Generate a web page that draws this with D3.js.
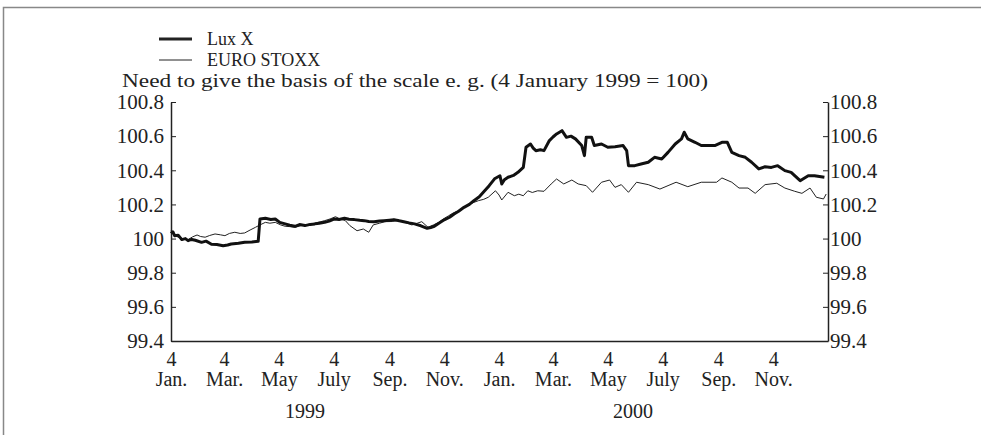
<!DOCTYPE html>
<html>
<head>
<meta charset="utf-8">
<script src="https://cdn.jsdelivr.net/npm/d3@7"></script>
<style>
  body { margin: 0; background: #fff; }
  text { font-family: "Liberation Serif", "Times New Roman", serif; fill: #222; }
</style>
</head>
<body>
<div id="chart"></div>
<script>
// Index levels, 4 January 1999 = 100
let luxX = [
  ["1999-01-04",100.03],["1999-01-06",100.04],["1999-01-08",100.017],["1999-01-12",100.02],
  ["1999-01-16",99.994],["1999-01-20",100.0],["1999-01-23",99.988],["1999-01-27",99.995],
  ["1999-01-31",99.99],["1999-02-07",99.978],["1999-02-12",99.985],["1999-02-18",99.967],
  ["1999-02-24",99.965],["1999-03-03",99.958],["1999-03-08",99.962],["1999-03-12",99.968],
  ["1999-03-20",99.972],["1999-03-27",99.978],["1999-04-04",99.98],["1999-04-11",99.984],
  ["1999-04-13",100.115],["1999-04-19",100.119],["1999-04-25",100.112],["1999-04-30",100.115],
  ["1999-05-05",100.095],["1999-05-11",100.086],["1999-05-16",100.078],["1999-05-22",100.072],
  ["1999-05-27",100.082],["1999-06-02",100.076],["1999-06-08",100.083],["1999-06-13",100.086],
  ["1999-06-18",100.09],["1999-06-24",100.095],["1999-06-29",100.102],["1999-07-05",100.115],
  ["1999-07-10",100.112],["1999-07-16",100.119],["1999-07-21",100.113],["1999-07-27",100.111],
  ["1999-08-02",100.107],["1999-08-07",100.105],["1999-08-12",100.1],["1999-08-18",100.099],
  ["1999-08-24",100.103],["1999-08-29",100.105],["1999-09-04",100.108],["1999-09-09",100.111],
  ["1999-09-15",100.104],["1999-09-20",100.099],["1999-09-26",100.092],["1999-10-02",100.086],
  ["1999-10-09",100.075],["1999-10-16",100.06],["1999-10-20",100.065],["1999-10-24",100.072],
  ["1999-10-29",100.09],["1999-11-04",100.11],["1999-11-10",100.125],["1999-11-15",100.144],
  ["1999-11-20",100.16],["1999-11-26",100.183],["1999-12-02",100.2],["1999-12-07",100.222],
  ["1999-12-13",100.245],["1999-12-19",100.28],["1999-12-24",100.31],["1999-12-30",100.35],
  ["2000-01-05",100.368],["2000-01-07",100.32],["2000-01-10",100.345],["2000-01-14",100.359],
  ["2000-01-20",100.37],["2000-01-25",100.388],["2000-01-31",100.417],["2000-02-03",100.535],
  ["2000-02-08",100.554],["2000-02-11",100.53],["2000-02-14",100.515],["2000-02-19",100.52],
  ["2000-02-23",100.515],["2000-02-29",100.574],["2000-03-04",100.595],["2000-03-08",100.613],
  ["2000-03-14",100.632],["2000-03-19",100.593],["2000-03-24",100.6],["2000-03-29",100.584],
  ["2000-04-05",100.545],["2000-04-08",100.486],["2000-04-10",100.594],["2000-04-16",100.594],
  ["2000-04-19",100.545],["2000-04-27",100.554],["2000-05-04",100.535],["2000-05-12",100.538],
  ["2000-05-21",100.545],["2000-05-25",100.515],["2000-05-27",100.427],["2000-06-03",100.427],
  ["2000-06-10",100.437],["2000-06-18",100.447],["2000-06-25",100.476],["2000-07-03",100.466],
  ["2000-07-10",100.505],["2000-07-18",100.554],["2000-07-25",100.584],["2000-07-28",100.623],
  ["2000-08-01",100.584],["2000-08-09",100.564],["2000-08-16",100.545],["2000-08-24",100.545],
  ["2000-08-31",100.545],["2000-09-08",100.564],["2000-09-14",100.564],["2000-09-19",100.505],
  ["2000-09-27",100.486],["2000-10-04",100.476],["2000-10-11",100.447],["2000-10-19",100.408],
  ["2000-10-26",100.421],["2000-11-02",100.417],["2000-11-09",100.427],["2000-11-17",100.398],
  ["2000-11-24",100.388],["2000-12-04",100.339],["2000-12-13",100.368],["2000-12-20",100.368],
  ["2000-12-31",100.359]
]

let euroStoxx = [
  ["1999-01-04",100.046],["1999-01-08",100.02],["1999-01-12",100.008],["1999-01-17",100.0],
  ["1999-01-23",99.994],["1999-01-28",100.01],["1999-02-02",100.021],["1999-02-06",100.012],
  ["1999-02-11",100.008],["1999-02-16",100.018],["1999-02-22",100.027],["1999-02-28",100.022],
  ["1999-03-05",100.017],["1999-03-10",100.03],["1999-03-16",100.037],["1999-03-22",100.03],
  ["1999-03-27",100.033],["1999-04-02",100.05],["1999-04-08",100.066],["1999-04-13",100.08],
  ["1999-04-19",100.095],["1999-04-24",100.09],["1999-04-30",100.095],["1999-05-06",100.08],
  ["1999-05-11",100.072],["1999-05-16",100.07],["1999-05-22",100.066],["1999-05-28",100.075],
  ["1999-06-02",100.08],["1999-06-08",100.085],["1999-06-13",100.091],["1999-06-19",100.098],
  ["1999-06-24",100.105],["1999-06-30",100.115],["1999-07-06",100.128],["1999-07-11",100.115],
  ["1999-07-17",100.105],["1999-07-22",100.076],["1999-07-30",100.046],["1999-08-06",100.056],
  ["1999-08-12",100.037],["1999-08-17",100.08],["1999-08-24",100.09],["1999-08-30",100.099],
  ["1999-09-07",100.1],["1999-09-14",100.105],["1999-09-21",100.095],["1999-09-29",100.08],
  ["1999-10-05",100.09],["1999-10-10",100.099],["1999-10-17",100.066],["1999-10-23",100.08],
  ["1999-10-29",100.095],["1999-11-03",100.115],["1999-11-09",100.134],["1999-11-14",100.15],
  ["1999-11-20",100.163],["1999-11-25",100.18],["1999-12-01",100.197],["1999-12-06",100.21],
  ["1999-12-12",100.222],["1999-12-18",100.23],["1999-12-23",100.242],["1999-12-31",100.28],
  ["2000-01-04",100.255],["2000-01-07",100.226],["2000-01-14",100.271],["2000-01-21",100.251],
  ["2000-01-26",100.26],["2000-01-31",100.251],["2000-02-05",100.28],["2000-02-10",100.27],
  ["2000-02-16",100.28],["2000-02-23",100.277],["2000-03-02",100.32],["2000-03-08",100.349],
  ["2000-03-16",100.32],["2000-03-25",100.343],["2000-04-01",100.32],["2000-04-10",100.31],
  ["2000-04-17",100.271],["2000-04-27",100.33],["2000-05-06",100.343],["2000-05-12",100.3],
  ["2000-05-19",100.316],["2000-05-27",100.271],["2000-06-05",100.33],["2000-06-18",100.316],
  ["2000-07-01",100.29],["2000-07-10",100.31],["2000-07-19",100.33],["2000-08-01",100.304],
  ["2000-08-16",100.33],["2000-09-02",100.33],["2000-09-08",100.355],["2000-09-19",100.33],
  ["2000-09-27",100.296],["2000-10-07",100.296],["2000-10-15",100.265],["2000-10-26",100.316],
  ["2000-11-08",100.324],["2000-11-17",100.296],["2000-11-28",100.277],["2000-12-06",100.265],
  ["2000-12-15",100.296],["2000-12-22",100.242],["2000-12-30",100.232],["2001-01-02",100.261]
]

// tick labels
let tickDates = ["1999-01-04","1999-03-04","1999-05-04","1999-07-04","1999-09-04","1999-11-04",
                 "2000-01-04","2000-03-04","2000-05-04","2000-07-04","2000-09-04","2000-11-04"]
let monthLabels = ["Jan.","Mar.","May","July","Sep.","Nov.","Jan.","Mar.","May","July","Sep.","Nov."]
let yearLabels = [{year: "1999", at: "1999-06-02"}, {year: "2000", at: "2000-06-01"}]
let yTicks = [99.4, 99.6, 99.8, 100, 100.2, 100.4, 100.6, 100.8]

let svg_width = 981
let svg_height = 435
let plotLeft = 171, plotRight = 828, plotTop = 102, plotBottom = 341

let parse = d3.timeParse("%Y-%m-%d")

let svg = d3.select("#chart")
  .append("svg")
  .attr("width", svg_width)
  .attr("height", svg_height)

// grey frame, top and left edges only
svg.append("path")
   .attr("d", `M3.5,${svg_height} V7.5 H${svg_width}`)
   .attr("fill", "none")
   .attr("stroke", "#888")
   .attr("stroke-width", 1.5)

let xScale = d3.scaleTime()
               .domain([parse("1999-01-04"), parse("2001-01-04")])
               .range([plotLeft, plotRight])

let yScale = d3.scaleLinear()
               .domain([99.4, 100.8])
               .range([plotBottom, plotTop])

let fmt = d => String(+d.toFixed(1))

//function to style the axes like the print
function styleAxis(selection, size) {
  selection.select(".domain").attr("stroke", "#222").attr("stroke-width", 1.5)
  selection.selectAll(".tick line").attr("stroke", "#222").attr("stroke-width", 1)
  selection.selectAll("text")
    .attr("font-family", "Liberation Serif, Times New Roman, serif")
    .attr("font-size", size)
    .attr("fill", "#222")
}

svg.append("g")
   .attr("transform", `translate(${plotLeft},0)`)
   .call(d3.axisLeft(yScale).tickValues(yTicks).tickFormat(fmt)
           .tickSizeInner(-5).tickSizeOuter(0).tickPadding(7))
   .call(styleAxis, 21)

svg.append("g")
   .attr("transform", `translate(${plotRight},0)`)
   .call(d3.axisRight(yScale).tickValues(yTicks).tickFormat(fmt)
           .tickSizeInner(-5).tickSizeOuter(0).tickPadding(2))
   .call(styleAxis, 21)

let xAxis = svg.append("g")
   .attr("transform", `translate(0,${plotBottom})`)
   .call(d3.axisBottom(xScale).tickValues(tickDates.map(parse))
           .tickFormat(() => "4").tickSize(0).tickPadding(11))
   .call(styleAxis, 20)

xAxis.selectAll(".tick")
   .append("text")
   .attr("y", 45)
   .attr("text-anchor", "middle")
   .attr("font-size", 20)
   .attr("fill", "#222")
   .text((d, i) => monthLabels[i])

svg.selectAll(".year")
   .data(yearLabels)
   .enter()
   .append("text")
   .attr("class", "year")
   .attr("x", d => xScale(parse(d.at)))
   .attr("y", 418)
   .attr("text-anchor", "middle")
   .attr("font-size", 20)
   .text(d => d.year)

let line = d3.line()
  .x(d => xScale(parse(d[0])))
  .y(d => yScale(d[1]))

svg.append("path")
   .datum(euroStoxx)
   .attr("d", line)
   .attr("fill", "none")
   .attr("stroke", "#222")
   .attr("stroke-width", 1)

svg.append("path")
   .datum(luxX)
   .attr("d", line)
   .attr("fill", "none")
   .attr("stroke", "#111")
   .attr("stroke-width", 3)
   .attr("stroke-linejoin", "round")

// legend
let legend = [{name: "Lux X", w: 3, y: 39}, {name: "EURO STOXX", w: 1, y: 60}]
legend.forEach(d => {
  svg.append("line")
     .attr("x1", 159).attr("x2", 192)
     .attr("y1", d.y).attr("y2", d.y)
     .attr("stroke", "#222")
     .attr("stroke-width", d.w)
  svg.append("text")
     .attr("x", 207)
     .attr("y", d.y + 6)
     .attr("font-size", 18)
     .text(d.name)
})

svg.append("text")
   .attr("x", 122)
   .attr("y", 87)
   .attr("font-size", 19)
   .attr("textLength", 586)
   .attr("lengthAdjust", "spacingAndGlyphs")
   .text("Need to give the basis of the scale e. g. (4 January 1999 = 100)")
</script>
</body>
</html>
